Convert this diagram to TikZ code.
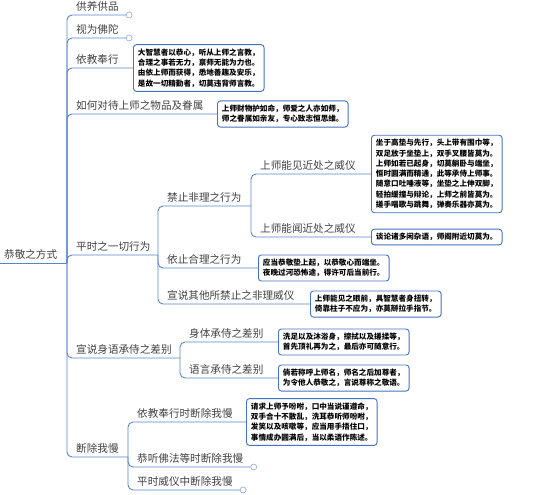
\documentclass[tikz,border=0pt]{standalone}
\usepackage{fontspec}
\newfontfamily\cjk{Noto Sans CJK SC}
\usetikzlibrary{positioning}
\definecolor{map_blue}{RGB}{88,132,200}
\definecolor{box_blue}{RGB}{68,114,196}
\definecolor{label_gray}{RGB}{64,64,64}

\begin{document}
\begin{tikzpicture}[x=1pt, y=-1pt,
      topic/.style={anchor=south west, inner xsep=7pt, inner ysep=3pt, text=label_gray,
                    font=\cjk\fontsize{10.6}{12}\selectfont},
      note/.style={draw=box_blue, line width=0.9pt, rounded corners=3pt, fill=white,
                   anchor=west, align=left, inner xsep=4.5pt, inner ysep=4pt,
                   font=\cjk\bfseries\fontsize{7.6}{10.3}\selectfont},
      branch/.style={draw=map_blue, line width=0.9pt, rounded corners=5pt},
      fold/.style={circle, draw=map_blue!70, fill=white, line width=0.6pt,
                   minimum size=6pt, inner sep=0pt, anchor=west}]
    \useasboundingbox (0,0) rectangle (554,495);

    \node[topic, inner xsep=4pt] (root) at (0,263) {恭敬之方式};
    \coordinate (hub) at (67,263);
    \draw[branch] (root.south west) -- (hub);

    \node[topic] (l1) at (69,15) {供养供品};
    \node[fold] (f1) at (l1.south east) {};
    \node[topic] (l2) at (69,38) {视为佛陀};
    \node[fold] (f2) at (l2.south east) {};
    \node[topic] (l3) at (69,68) {依教奉行};
    \node[note] (b1) at (133,68)
      {大智慧者以恭心，听从上师之言教，\\合理之事若无力，禀师无能为力也。\\由依上师而获得，悉地善趣及安乐，\\是故一切精勤者，切莫违背师言教。};
    \node[topic] (l4) at (69,114) {如何对待上师之物品及眷属};
    \node[note] (b2) at (217,114)
      {上师财物护如命，师爱之人亦如师，\\师之眷属如亲友，专心致志恒思维。};
    \node[topic] (l5) at (69,255) {平时之一切行为};
    \coordinate (h5) at (158,255);
    \node[topic] (l6) at (69,358) {宣说身语承侍之差别};
    \coordinate (h6) at (180,358);
    \node[topic] (l7) at (69,457) {断除我慢};
    \coordinate (h7) at (128,457);

    \draw[branch] (hub) |- (f1.west);
    \draw[branch] (hub) |- (f2.west);
    \draw[branch] (hub) |- (b1.west);
    \draw[branch] (hub) |- (b2.west);
    \draw[branch] (hub) |- (h5);
    \draw[branch] (hub) |- (h6);
    \draw[branch] (hub) |- (h7);

    \node[topic] (m1) at (160,206) {禁止非理之行为};
    \coordinate (h51) at (251,206);
    \node[topic] (n1) at (253,174) {上师能见近处之威仪};
    \node[note] (b3) at (371,174)
      {坐于高垫与先行，头上带有围巾等，\\双足放于坐垫上，双手叉腰皆莫为。\\上师如若已起身，切莫躺卧与端坐，\\恒时圆满而精通，此等承侍上师事。\\随意口吐唾液等，坐垫之上伸双脚，\\轻拍缓撞与辩论，上师之前皆莫为。\\搓手唱歌与跳舞，弹奏乐器亦莫为。};
    \node[topic] (n2) at (253,237) {上师能闻近处之威仪};
    \node[note] (b4) at (371,237) {谈论诸多闲杂语，师阁附近切莫为。};
    \node[topic] (m2) at (160,268) {依止合理之行为};
    \node[note] (b5) at (258,268)
      {应当恭敬垫上起，以恭敬心而端坐。\\夜晚过河恐怖途，得许可后当前行。};
    \node[topic] (m3) at (160,304) {宣说其他所禁止之非理威仪};
    \node[note] (b6) at (310,304)
      {上师能见之眼前，具智慧者身扭转，\\倚靠柱子不应为，亦莫掰拉手指节。};

    \draw[branch] (h5) |- (h51);
    \draw[branch] (h51) |- (b3.west);
    \draw[branch] (h51) |- (b4.west);
    \draw[branch] (h5) |- (b5.west);
    \draw[branch] (h5) |- (b6.west);

    \node[topic] (m4) at (182,342) {身体承侍之差别};
    \node[note] (b7) at (278,342)
      {洗足以及沐浴身，擦拭以及搓揉等，\\首先顶礼再为之，最后亦可随意行。};
    \node[topic] (m5) at (182,378) {语言承侍之差别};
    \node[note] (b8) at (278,378)
      {倘若称呼上师名，师名之后加尊者，\\为令他人恭敬之，言说尊称之敬语。};
    \draw[branch] (h6) |- (b7.west);
    \draw[branch] (h6) |- (b8.west);

    \node[topic] (m6) at (130,422) {依教奉行时断除我慢};
    \node[note] (b9) at (246,422)
      {请求上师予吩咐，口中当说谨遵命，\\双手合十不散乱，洗耳恭听师吩咐，\\发笑以及咳嗽等，应当用手捂住口，\\事情成办圆满后，当以柔语作陈述。};
    \node[topic] (m7) at (130,467) {恭听佛法等时断除我慢};
    \node[fold] (f7) at (m7.south east) {};
    \node[topic] (m8) at (130,490) {平时威仪中断除我慢};
    \node[fold] (f8) at (m8.south east) {};
    \draw[branch] (h7) |- (b9.west);
    \draw[branch] (h7) |- (f7.west);
    \draw[branch] (h7) |- (f8.west);
  \end{tikzpicture}
\end{document}
